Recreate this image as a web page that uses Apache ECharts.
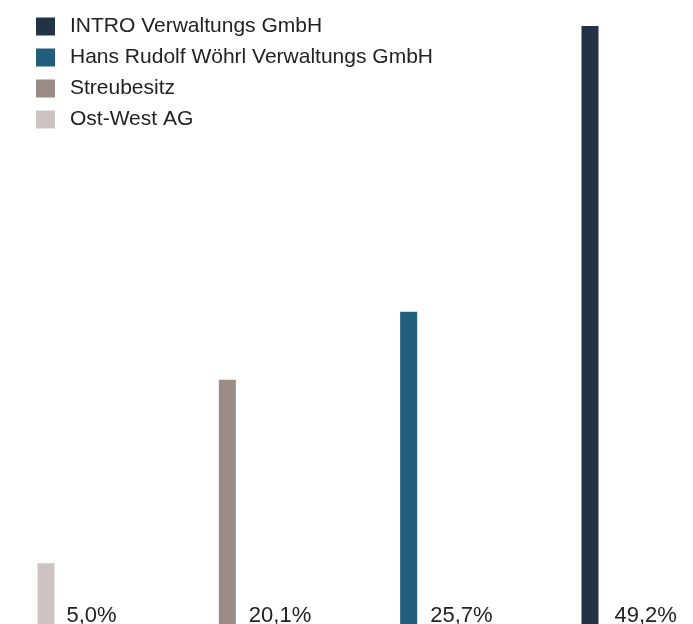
<!DOCTYPE html>
<html>
<head>
<meta charset="utf-8">
<script src="https://cdn.jsdelivr.net/npm/echarts@6/dist/echarts.min.js"></script>
<style>
html,body{margin:0;padding:0;background:#fff;}
#chart{width:693px;height:624px;}
</style>
</head>
<body>
<div id="chart"></div>
<script>
const categories = ['Ost-West AG', 'Streubesitz', 'Hans Rudolf Wöhrl Verwaltungs GmbH', 'INTRO Verwaltungs GmbH'];
const values = [5.0, 20.1, 25.7, 49.2];
const colors = ['#cdc3c1', '#9a8b85', '#215e7b', '#233346'];
const legendOrder = ['INTRO Verwaltungs GmbH', 'Hans Rudolf Wöhrl Verwaltungs GmbH', 'Streubesitz', 'Ost-West AG'];

const FONT = '"Liberation Sans", Arial, sans-serif';
const labelDx = [12, 13, 13, 16];

const series = categories.map(function (name, i) {
  return {
    name: name,
    type: 'bar',
    stack: 'all',
    barWidth: 17,
    clip: false,
    itemStyle: { color: colors[i] },
    label: {
      show: true,
      position: ['100%', '100%'],
      align: 'left',
      verticalAlign: 'bottom',
      offset: [labelDx[i], 3],
      color: '#222',
      fontSize: 22,
      fontFamily: FONT,
      formatter: function (p) { return p.value.toFixed(1).replace('.', ',') + '%'; }
    },
    data: categories.map(function (c, j) { return j === i ? values[i] : '-'; })
  };
});

const chart = echarts.init(document.getElementById('chart'), null, { renderer: 'canvas' });
chart.setOption({
  animation: false,
  backgroundColor: '#fff',
  color: colors,
  legend: {
    orient: 'vertical',
    left: 31,
    top: 11,
    icon: 'rect',
    itemWidth: 19,
    itemHeight: 18,
    itemGap: 10,
    data: legendOrder,
    textStyle: { fontSize: 21, color: '#222', fontFamily: FONT, padding: [0, 0, 0, 10] }
  },
  grid: { left: 46, right: 103, top: 26, bottom: -3 },
  xAxis: { type: 'category', data: categories, show: false, boundaryGap: false },
  yAxis: { type: 'value', min: 0, max: 'dataMax', show: false, splitLine: { show: false } },
  series: series
});
</script>
</body>
</html>
